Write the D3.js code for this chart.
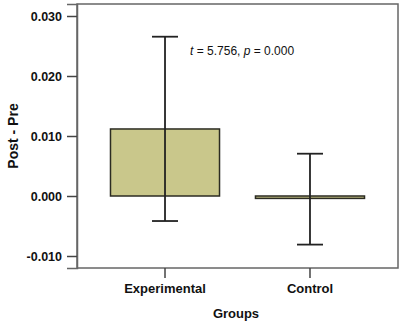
<!DOCTYPE html>
<html>
<head>
<meta charset="utf-8">
<script src="https://cdn.jsdelivr.net/npm/d3@7"></script>
<style>
  body { margin: 0; background: #fff; }
  svg { display: block; font-family: Arial, "Liberation Sans", sans-serif; }
</style>
</head>
<body>
<div id="chart"></div>
<script>
// data
var groups = ['Experimental', 'Control'];
var means = [0.01117, -0.0004];
var upper = [0.02655, 0.00705];
var lower = [-0.00417, -0.0081];
var yTicks = [-0.010, 0.000, 0.010, 0.020, 0.030];
var statText = ['t', ' = 5.756, ', 'p', ' = 0.000'];

var svgWidth = 403, svgHeight = 325;
var margin = {top: 4, right: 5, bottom: 57, left: 77};
var width = svgWidth - margin.left - margin.right;
var height = svgHeight - margin.top - margin.bottom;

var svg = d3.select('#chart').append('svg')
    .attr('width', svgWidth).attr('height', svgHeight);

var g = svg.append('g')
    .attr('transform', 'translate(' + margin.left + ' ' + margin.top + ')');

var x = d3.scaleBand()
    .domain(groups)
    .range([0, width])
    .paddingInner(0.248)
    .paddingOuter(0.231);

var y = d3.scaleLinear()
    .domain([-0.012, 0.032])
    .range([height, 0]);

// frame
g.append('rect')
    .attr('x', 0).attr('y', 0)
    .attr('width', width).attr('height', height)
    .attr('fill', 'none')
    .attr('stroke', '#666')
    .attr('stroke-width', 1.5);

// y axis - plain hyphen for negatives, like the original
var fmt = function(d) { return d3.format('.3f')(d).replace('\u2212', '-'); };
var yAxis = g.append('g')
    .call(d3.axisLeft(y).tickValues(yTicks).tickFormat(fmt).tickSize(10).tickPadding(5));
yAxis.select('.domain').attr('stroke', '#666').attr('stroke-width', 1.5);
yAxis.selectAll('.tick line').attr('stroke', '#444').attr('stroke-width', 1.5);
yAxis.selectAll('.tick text')
    .attr('fill', '#111')
    .style('font-size', '12.5px')
    .style('font-weight', 'bold');

// x axis
var xAxis = g.append('g')
    .attr('transform', 'translate(0 ' + height + ')')
    .call(d3.axisBottom(x).tickSize(10).tickPadding(6));
xAxis.select('.domain').remove();
xAxis.selectAll('.tick line').attr('stroke', '#444').attr('stroke-width', 1.5);
xAxis.selectAll('.tick text')
    .attr('fill', '#111')
    .style('font-size', '13px')
    .style('font-weight', 'bold');

// bars
var bars = g.selectAll('.bar')
    .data(groups)
    .enter().append('g')
    .attr('class', 'bar');

bars.append('rect')
    .attr('x', function(d) { return x(d); })
    .attr('width', x.bandwidth())
    .attr('y', function(d, i) { return y(Math.max(0, means[i])); })
    .attr('height', function(d, i) { return Math.max(1.5, Math.abs(y(means[i]) - y(0))); })
    .attr('fill', '#c9c78b')
    .attr('stroke', '#2b2b22')
    .attr('stroke-width', 1.5);

// error bars
var capW = 26;
bars.append('line')
    .attr('x1', function(d) { return x(d) + x.bandwidth() / 2; })
    .attr('x2', function(d) { return x(d) + x.bandwidth() / 2; })
    .attr('y1', function(d, i) { return y(upper[i]); })
    .attr('y2', function(d, i) { return y(lower[i]); })
    .attr('stroke', '#222').attr('stroke-width', 1.8);

[upper, lower].forEach(function(arr) {
    bars.append('line')
        .attr('x1', function(d) { return x(d) + x.bandwidth() / 2 - capW / 2; })
        .attr('x2', function(d) { return x(d) + x.bandwidth() / 2 + capW / 2; })
        .attr('y1', function(d, i) { return y(arr[i]); })
        .attr('y2', function(d, i) { return y(arr[i]); })
        .attr('stroke', '#222').attr('stroke-width', 1.8);
});

// stat annotation
var stat = g.append('text')
    .attr('x', 113).attr('y', 51)
    .attr('fill', '#111')
    .style('font-size', '12px');
statText.forEach(function(s, i) {
    stat.append('tspan')
        .style('font-style', i % 2 === 0 ? 'italic' : 'normal')
        .text(s);
});

// axis titles
svg.append('text')
    .attr('transform', 'translate(18 136) rotate(-90)')
    .attr('text-anchor', 'middle')
    .attr('fill', '#111')
    .style('font-size', '14px')
    .style('font-weight', 'bold')
    .text('Post - Pre');

svg.append('text')
    .attr('x', 236).attr('y', 318)
    .attr('text-anchor', 'middle')
    .attr('fill', '#111')
    .style('font-size', '13px')
    .style('font-weight', 'bold')
    .text('Groups');
</script>
</body>
</html>
